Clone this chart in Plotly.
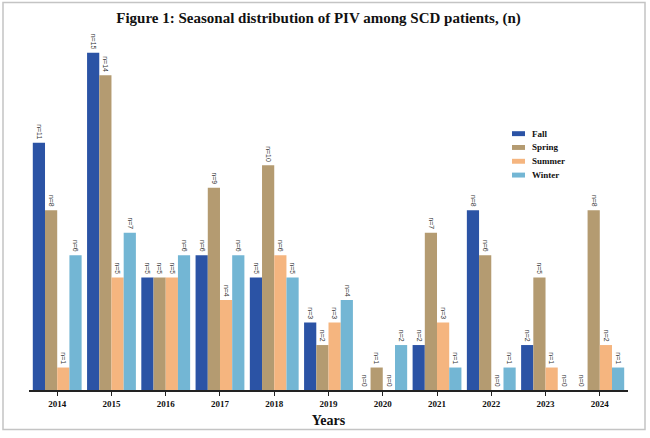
import plotly.graph_objects as go

years = ["2014", "2015", "2016", "2017", "2018", "2019", "2020", "2021", "2022", "2023", "2024"]
fall = [11, 15, 5, 6, 5, 3, 0, 2, 8, 2, 0]
spring = [8, 14, 5, 9, 10, 2, 1, 7, 6, 5, 8]
summer = [1, 5, 5, 4, 6, 3, 0, 3, 0, 1, 2]
winter = [6, 7, 6, 6, 5, 4, 2, 1, 1, 0, 1]

series = [("Fall", fall, "#2B53A5"), ("Spring", spring, "#B49B71"),
          ("Summer", summer, "#F5B57F"), ("Winter", winter, "#73B6D4")]

SERIF = "Liberation Serif, Times New Roman, serif"

fig = go.Figure()
for name, vals, col in series:
    fig.add_trace(go.Bar(
        x=years, y=vals, name=name, marker_color=col, marker_line_width=0,
        text=[f"n={v}" for v in vals], textposition="outside", textangle=90,
        textfont=dict(size=8, color="#333", family="Arial"), cliponaxis=False,
        showlegend=False,
    ))

W, H = 650, 438
ml, mr, mt, mb = 29, 22, 40, 43
pw = W - ml - mr
ph = H - mt - mb

def px(x):
    return (x - ml) / pw

def py(y):
    return (H - mb - y) / ph

shapes = [dict(type="rect", xref="paper", yref="paper",
               x0=px(3), x1=px(645), y0=py(435), y1=py(2),
               line=dict(color="#c4c4c4", width=1.5), layer="below")]
annotations = []
leg_y = [135, 149, 163, 177]
for (name, vals, col), yy in zip(series, leg_y):
    shapes.append(dict(type="rect", xref="paper", yref="paper",
                       x0=px(512), x1=px(525), y0=py(yy + 2.5), y1=py(yy - 2.5),
                       fillcolor=col, line=dict(width=0)))
    annotations.append(dict(xref="paper", yref="paper", x=px(530), y=py(yy),
                            xanchor="left", yanchor="middle", showarrow=False,
                            text=f"<b>{name}</b>",
                            font=dict(family=SERIF, size=9, color="#111")))

fig.update_layout(
    width=W, height=H,
    margin=dict(l=ml, r=mr, t=mt, b=mb, pad=0),
    paper_bgcolor="white", plot_bgcolor="white",
    barmode="group", bargap=0.1, bargroupgap=0,
    uniformtext=dict(minsize=6, mode="show"),
    showlegend=False,
    title=dict(text="<b>Figure 1: Seasonal distribution of PIV among SCD patients, (n)</b>",
               x=0.49, xanchor="center", y=1 - 18 / H, yanchor="middle",
               font=dict(family=SERIF, size=15, color="#111")),
    xaxis=dict(type="category", range=[-0.52, 10.52], showline=True, linecolor="#222",
               linewidth=1.5, ticks="outside", ticklen=4, tickcolor="#222",
               tickfont=dict(family=SERIF, size=9, color="#111"),
               title=dict(text="<b>Years</b>", font=dict(family=SERIF, size=14, color="#111"),
                          standoff=8),
               tickprefix="<b>", ticksuffix="</b>"),
    yaxis=dict(range=[0, (H - mb - mt) / 22.8], visible=False),
    shapes=shapes,
    annotations=annotations,
)

fig.write_html("out.html")
